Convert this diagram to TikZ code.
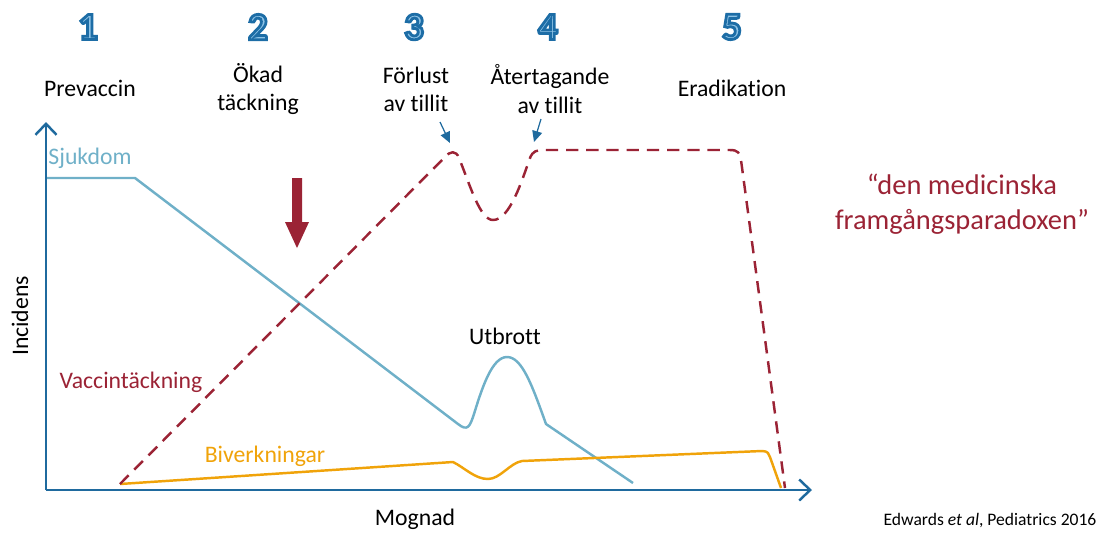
\documentclass[tikz,border=0pt]{standalone}
\usepackage{fontspec}
\setmainfont[Ligatures=NoCommon]{Carlito}
\usetikzlibrary{arrows.meta}
\definecolor{axisblue}{HTML}{1F6A9E}
\definecolor{numblue}{HTML}{1D6DA6}
\definecolor{numfill}{HTML}{8FC3E6}
\definecolor{sjuk}{HTML}{6FB0C8}
\definecolor{vacc}{HTML}{9B2335}
\definecolor{biv}{HTML}{F0A30A}
\newcommand{\outlinenum}[1]{\special{pdf:literal direct 2 Tr 1.6 w 0.114 0.427 0.651 RG}#1\special{pdf:literal direct 0 Tr}}
\tikzset{
  axis/.style={draw=axisblue, line width=1.4pt, -{Straight Barb[length=2.2mm,width=4.2mm,line width=1.4pt]}},
  lbl/.style={font=\fontsize{13.5}{16}\selectfont, align=center, text=black},
  num/.style={font=\fontsize{22}{24}\selectfont\bfseries, text=numfill},
  sjukline/.style={draw=sjuk, line width=1.4pt, line join=round},
  vaccline/.style={draw=vacc, line width=1.4pt, dash pattern=on 7pt off 4.5pt, line join=round},
  bivline/.style={draw=biv, line width=1.4pt, line join=round},
  small arrow/.style={draw=axisblue, line width=0.7pt, -{Triangle[length=2.2mm,width=2mm]}},
}
\begin{document}
\begin{tikzpicture}[x={(0.02cm,0)}, y={(0,-0.02cm)}]
\useasboundingbox (0,0) rectangle (1100,532);
% numbers
\node[num] (n1) at (88,27) {\outlinenum{1}};
\node[num] (n2) at (258,27) {\outlinenum{2}};
\node[num] (n3) at (414,27) {\outlinenum{3}};
\node[num] (n4) at (548,27) {\outlinenum{4}};
\node[num] (n5) at (732,27) {\outlinenum{5}};
% phase labels
\node[lbl] (p1) at (90,88) {Prevaccin};
\node[lbl] (p2) at (258,89) {Ökad\\täckning};
\node[lbl] (p3) at (416,89) {Förlust\\av tillit};
\node[lbl] (p4) at (550,89) {Återtagande\\av tillit};
\node[lbl] (p5) at (732,88) {Eradikation};
% axes
\coordinate (o) at (46,490);
\coordinate (ytop) at (46,122);
\coordinate (xend) at (812,490);
\draw[axis] (o) -- (ytop);
\draw[axis] (o) -- (xend);
\node[lbl, rotate=90] (ylab) at (20,316) {Incidens};
\node[lbl] (xlab) at (415,519) {Mognad};
% Sjukdom curve
\coordinate (s0) at (47,178);
\coordinate (s1) at (135,178);
\coordinate (s2) at (458,424);
\coordinate (s3) at (507,357);
\coordinate (s4) at (546,424);
\coordinate (s5) at (633,483);
\draw[sjukline] (s0) -- (s1) -- (s2)
  .. controls (468,432) and (470,426) .. (474,414)
  .. controls (482,388) and (492,357) .. (s3)
  .. controls (522,357) and (532,385) .. (s4) -- (s5);
\node[font=\fontsize{13.5}{16}\selectfont, text=sjuk] (sjlab) at (90,158) {Sjukdom};
% Biverkningar curve
\coordinate (b0) at (120,484);
\coordinate (b1) at (453,462);
\coordinate (b2) at (488,479);
\coordinate (b3) at (522,461);
\coordinate (b4) at (762,451);
\coordinate (b5) at (781,488);
\draw[bivline] (b0) -- (b1)
  .. controls (465,468) and (475,479) .. (b2)
  .. controls (500,479) and (510,463) .. (b3)
  -- (b4) .. controls (768,451) and (769,454) .. (770,457) -- (b5);
\node[font=\fontsize{13.5}{16}\selectfont, text=biv] (bivlab) at (265,456) {Biverkningar};
% Vaccintäckning curve
\coordinate (v0) at (120,484);
\draw[vaccline] (v0) -- (445,157)
  .. controls (450,151) and (456,150) .. (459,158)
  .. controls (470,185) and (480,220) .. (493,220)
  .. controls (510,220) and (522,180) .. (530,158)
  .. controls (533,151) and (536,150) .. (545,150)
  -- (730,150)
  .. controls (738,150) and (740,153) .. (741,160)
  -- (785,488);
\node[font=\fontsize{13.5}{16}\selectfont, text=vacc] (vlab) at (131,382) {Vaccintäckning};
% Utbrott
\node[lbl] (utb) at (505,336) {Utbrott};
% big red arrow
\fill[vacc] (292,178) -- (302,178) -- (302,222) -- (309,222) -- (297,248) -- (285,222) -- (292,222) -- cycle;
% small arrows
\coordinate (a1s) at (440,122);
\coordinate (a1e) at (450,143);
\coordinate (a2s) at (541,119);
\coordinate (a2e) at (534,142);
\draw[small arrow] (a1s) -- (a1e);
\draw[small arrow] (a2s) -- (a2e);
% paradox quote
\node[font=\fontsize{16.2}{20}\selectfont, text=vacc, align=center] (quote) at (962,204) {“den medicinska\\framgångsparadoxen”};
% citation
\node[font=\fontsize{10}{12}\selectfont, text=black] (cite) at (990,521) {Edwards \textit{et al}, Pediatrics 2016};
\end{tikzpicture}
\end{document}
